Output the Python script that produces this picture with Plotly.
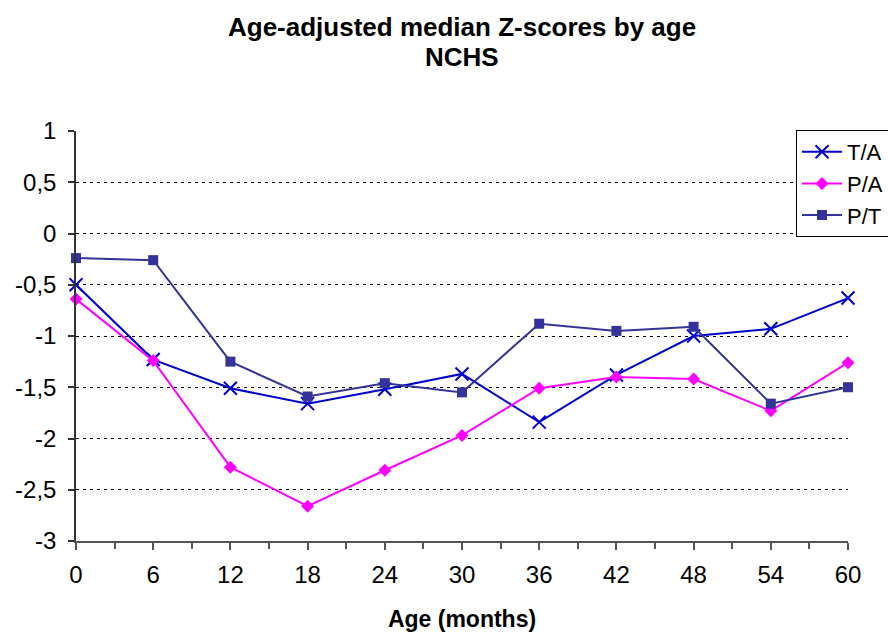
import plotly.graph_objects as go

ages = [0, 6, 12, 18, 24, 30, 36, 42, 48, 54, 60]
ta = [-0.50, -1.23, -1.51, -1.66, -1.52, -1.37, -1.84, -1.38, -1.00, -0.93, -0.63]
pa = [-0.64, -1.24, -2.28, -2.66, -2.31, -1.97, -1.51, -1.40, -1.42, -1.73, -1.26]
pt = [-0.24, -0.26, -1.25, -1.59, -1.46, -1.55, -0.88, -0.95, -0.91, -1.66, -1.50]

y_ticks = [1, 0.5, 0, -0.5, -1, -1.5, -2, -2.5, -3]
y_labels = ["1", "0,5", "0", "-0,5", "-1", "-1,5", "-2", "-2,5", "-3"]
x_ticks = ages
x_labels = [str(a) for a in ages]
title_lines = ["Age-adjusted median Z-scores by age", "NCHS"]
x_title = "Age (months)"

font = "Liberation Sans, Arial, sans-serif"

fig = go.Figure()
fig.add_trace(go.Scatter(x=ages, y=ta, name="T/A", mode="lines+markers",
                         line=dict(color="#0000CC", width=2),
                         marker=dict(symbol="x-thin", size=13, line=dict(color="#0000CC", width=2))))
fig.add_trace(go.Scatter(x=ages, y=pa, name="P/A", mode="lines+markers",
                         line=dict(color="#FF00FF", width=2),
                         marker=dict(symbol="diamond", size=10, color="#FF00FF")))
fig.add_trace(go.Scatter(x=ages, y=pt, name="P/T", mode="lines+markers",
                         line=dict(color="#333399", width=2),
                         marker=dict(symbol="square", size=10, color="#333399")))

W, H = 888, 634
L, R, T, B = 76, 40, 131, 93
ph = H - T - B

def py(y_page):
    return (H - B - y_page) / ph

for txt, yp in zip(title_lines, [27, 57]):
    fig.add_annotation(text="<b>" + txt + "</b>", x=0.5, xref="paper", y=py(yp), yref="paper",
                       xanchor="center", yanchor="middle", showarrow=False,
                       font=dict(size=26, family=font, color="black"))

fig.update_layout(
    width=W, height=H,
    margin=dict(l=L, r=R, t=T, b=B, autoexpand=False),
    paper_bgcolor="white", plot_bgcolor="white",
    font=dict(family=font, size=24, color="black"),
    xaxis=dict(range=[0, 60], tickvals=x_ticks, ticktext=x_labels,
               showgrid=False, zeroline=False, showline=True, linecolor="#555555", linewidth=1.5,
               ticks="outside", ticklen=7, tickcolor="#555555", tickwidth=1.5,
               minor=dict(dtick=3, tick0=0, ticks="outside", ticklen=6, tickcolor="#555555", tickwidth=1.5),
               title=dict(text="<b>" + x_title + "</b>", font=dict(size=23, family=font), standoff=24),
               tickfont=dict(size=24), ticklabelstandoff=4),
    yaxis=dict(range=[-3, 1], tickvals=y_ticks, ticktext=y_labels,
               showgrid=True, gridcolor="black", griddash="3px,4px", gridwidth=1,
               zeroline=False, showline=True, linecolor="#333333", linewidth=1.5,
               ticks="outside", ticklen=6, tickcolor="#333333", tickwidth=1.5,
               tickfont=dict(size=24), ticklabelstandoff=7),
    legend=dict(x=796 / W, xref="container", y=1 - 130 / H, yref="container",
                xanchor="left", yanchor="top",
                bordercolor="black", borderwidth=1, bgcolor="white",
                font=dict(size=22, family=font), tracegroupgap=0, itemwidth=40),
    showlegend=True,
)
fig.update_traces(cliponaxis=False)

fig.write_html("out.html", config={"displayModeBar": False},
               post_script="document.body.style.margin='0';document.body.style.overflow='hidden';")
